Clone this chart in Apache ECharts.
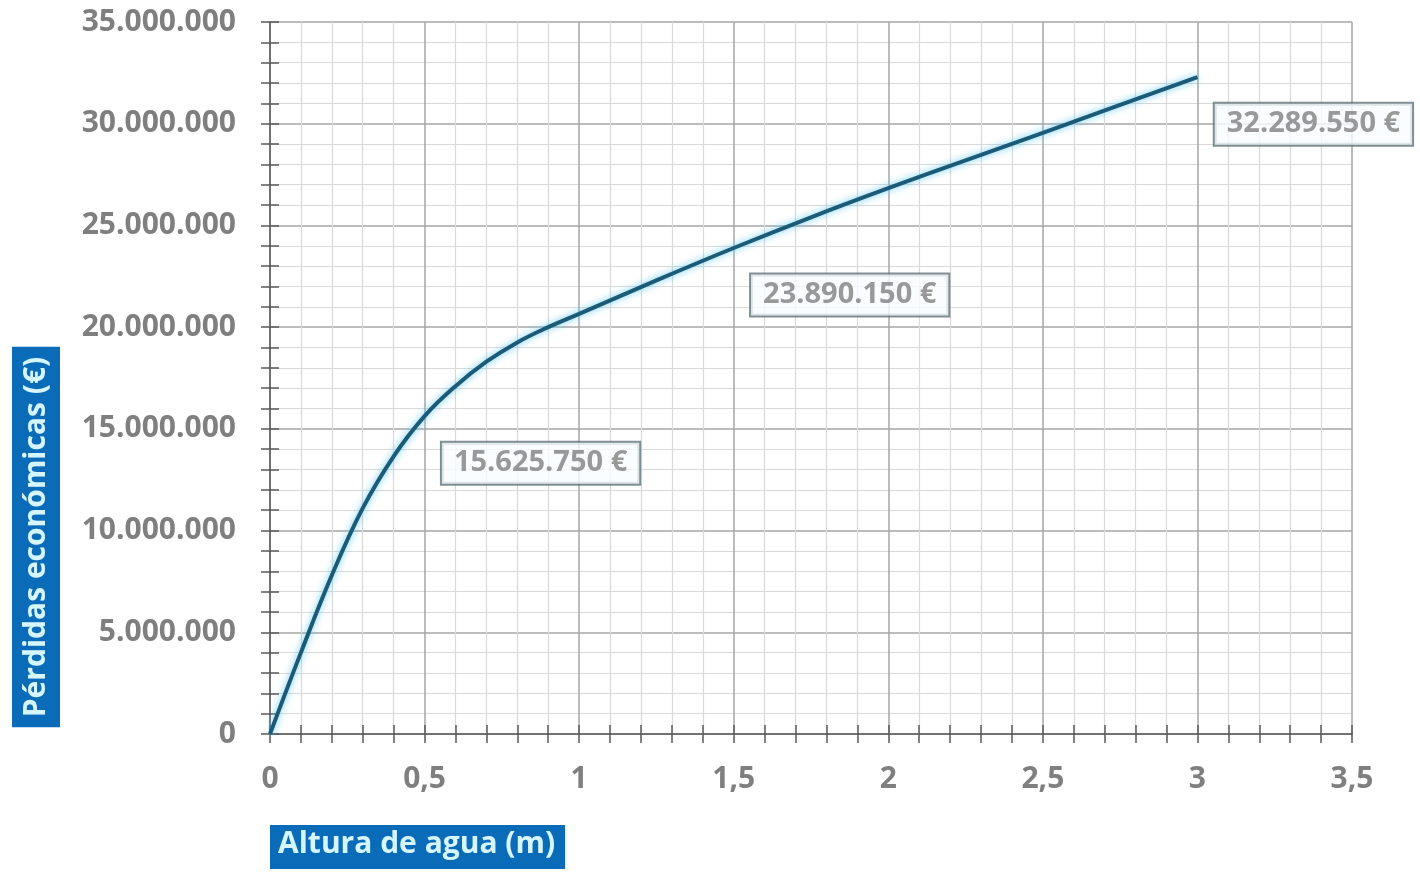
<!DOCTYPE html>
<html>
<head>
<meta charset="utf-8">
<script src="https://cdn.jsdelivr.net/npm/echarts@6/dist/echarts.min.js"></script>
<style>
  html, body { margin: 0; padding: 0; background: #fff; }
  #chart { width: 1420px; height: 872px; }
</style>
</head>
<body>
<div id="chart"></div>
<script>
// altura de agua (m) y pérdidas económicas (€)
const alturas = [0, 0.1, 0.2, 0.3, 0.4, 0.5, 0.6, 0.7, 0.8, 0.9, 1.0, 1.25, 1.5, 1.75, 2.0, 2.25, 2.5, 2.75, 3.0];
const perdidas = [0, 4000000, 7800000, 11100000, 13650000, 15625750, 17100000, 18300000, 19250000, 20000000,
  20650000, 22300000, 23890150, 25400000, 26830000, 28200000, 29550000, 30930000, 32289550];
// puntos con etiqueta
const etiquetaAltura = [0.5, 1.5, 3.0];
const etiquetaValor = [15625750, 23890150, 32289550];

const nombreX = 'Altura de agua (m)';
const nombreY = 'Pérdidas económicas (€)';

const miles = v => String(Math.round(v)).replace(/\B(?=(\d{3})+(?!\d))/g, '.');
const coma = v => String(v).replace('.', ',');

const chart = echarts.init(document.getElementById('chart'));

const gris = '#7f7f7f';
const oscuro = '#595959';
const fuente = '"Open Sans", sans-serif';
const rejilla = { left: 270, right: 68, top: 22, bottom: 138 };

const marca = { show: true, length: 9, lineStyle: { color: oscuro, width: 1.5 } };

const ejeX = {
  type: 'value', position: 'bottom', min: 0, max: 3.5, interval: 0.5,
  axisLine: { show: true, lineStyle: { color: oscuro, width: 1.5 } },
  axisTick: marca,
  minorTick: Object.assign({ splitNumber: 5 }, marca),
  axisLabel: { color: gris, fontSize: 30, fontWeight: 'bold', fontFamily: fuente, margin: 30, formatter: coma },
  splitLine: { show: true, lineStyle: { color: '#a6a6a6', width: 1.5 } },
  minorSplitLine: { show: true, lineStyle: { color: '#d9d9d9', width: 1.2 } }
};
const ejeY = {
  type: 'value', position: 'left', min: 0, max: 35000000, interval: 5000000,
  axisLine: { show: true, lineStyle: { color: oscuro, width: 1.5 } },
  axisTick: marca,
  minorTick: Object.assign({ splitNumber: 5 }, marca),
  axisLabel: { color: gris, fontSize: 30, fontWeight: 'bold', fontFamily: fuente, margin: 34, formatter: miles },
  splitLine: { show: true, lineStyle: { color: '#a6a6a6', width: 1.5 } },
  minorSplitLine: { show: true, lineStyle: { color: '#d9d9d9', width: 1.2 } }
};
// copias en una segunda rejilla idéntica, con marcas hacia dentro, para que crucen el eje
function copiaDentro(eje) {
  return Object.assign({}, eje, {
    gridIndex: 1,
    axisLine: { show: false },
    axisTick: Object.assign({}, marca, { inside: true }),
    minorTick: Object.assign({ splitNumber: 5 }, marca, { inside: true }),
    axisLabel: { show: false }, splitLine: { show: false }, minorSplitLine: { show: false }
  });
}

const option = {
  animation: false,
  grid: [rejilla, Object.assign({}, rejilla)],
  xAxis: [ejeX, copiaDentro(ejeX)],
  yAxis: [ejeY, copiaDentro(ejeY)],
  series: [
    {
      type: 'line',
      data: alturas.map((x, i) => [x, perdidas[i]]),
      smooth: 0.4,
      showSymbol: false,
      lineStyle: { color: '#1b5b78', width: 4, shadowColor: 'rgba(90,200,240,0.95)', shadowBlur: 7 }
    },
    {
      type: 'scatter',
      symbolSize: 1,
      itemStyle: { color: 'rgba(0,0,0,0)' },
      data: etiquetaAltura.map((x, i) => [x, etiquetaValor[i]]),
      label: {
        show: true,
        position: 'inside',
        offset: [116, 47],
        formatter: p => miles(p.value[1]) + ' €',
        color: gris,
        fontSize: 29,
        fontWeight: 'bold',
        fontFamily: fuente,
        backgroundColor: '#f7fdff',
        borderColor: '#5f7479',
        borderWidth: 2,
        padding: [7, 12, 5, 12]
      }
    }
  ],
  graphic: [
    {
      type: 'text', x: 270, y: 825,
      style: {
        text: nombreX, x: 0, y: 0, fill: '#d6f6ff',
        font: 'bold 30px ' + fuente,
        backgroundColor: '#0a6cb8', padding: [4, 10, 10, 8]
      }
    },
    {
      type: 'text', x: 36, y: 537, rotation: Math.PI / 2,
      style: {
        text: nombreY, x: 0, y: 0, align: 'center', verticalAlign: 'middle', fill: '#d6f6ff',
        font: 'bold 30px ' + fuente,
        backgroundColor: '#0a6cb8', padding: [11, 10, 7, 10]
      }
    }
  ]
};

chart.setOption(option);
</script>
</body>
</html>
